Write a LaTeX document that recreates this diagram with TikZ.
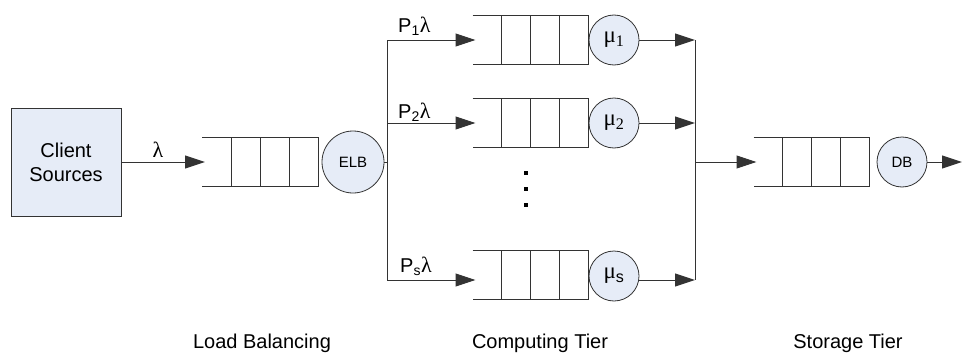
\documentclass[tikz,border=0pt]{standalone}
\usepackage{fontspec}
\setmainfont{Liberation Sans}
\newfontfamily\gr{Liberation Serif}
\usetikzlibrary{arrows.meta}
\definecolor{lblue}{HTML}{E6ECF7}
\definecolor{ln}{HTML}{333333}
\tikzset{
  qline/.style={draw=ln, line width=1pt},
  arr/.style={draw=ln, line width=1pt, -{Triangle[length=20pt,width=13pt]}},
  wire/.style={draw=ln, line width=1pt},
  srv/.style={circle, draw=ln, line width=0.8pt, fill=lblue, inner sep=0pt},
  client/.style={rectangle, draw=ln, line width=1pt, fill=lblue, minimum width=110pt, minimum height=108pt, align=center, font=\fontsize{20}{24}\selectfont},
  lbl/.style={inner sep=0pt, font=\fontsize{20}{24}\selectfont},
  queue/.pic={
    \draw[qline] (-58,-24.5) -- (58,-24.5) -- (58,24.5) -- (-58,24.5);
    \foreach \xx in {-29,0,29} \draw[qline] (\xx,-24.5) -- (\xx,24.5);
    \coordinate (-in) at (-55,0);
  }
}
\begin{document}
\begin{tikzpicture}[x=1pt,y=-1pt]
\useasboundingbox (0,0) rectangle (962,356);
% load balancing
\node[client] (cs) at (66,162) {Client\\Sources};
\pic (q0) at (260,162) {queue};
\node[srv, minimum size=62pt, font=\fontsize{15}{18}\selectfont] (elb) at (353,162) {ELB};
\draw[arr] (cs) -- (q0-in);
\node[lbl, font=\fontsize{22}{26}\selectfont] (lam) at (158,150) {\gr λ};
% branches
\coordinate (b1) at (387,40);
\coordinate (b2) at (387,123);
\coordinate (bs) at (387,280);
\coordinate (bm) at (387,162);
\draw[wire] (b1) -- (bs);
\draw[wire] (elb.east) -- (bm);
% computing tier queues
\pic (q1) at (530.5,40) {queue};
\pic (q2) at (530.5,123) {queue};
\pic (q3) at (530.5,275) {queue};
\coordinate (q3in) at (475.5,280);
\draw[arr] (b1) -- (q1-in);
\draw[arr] (b2) -- (q2-in);
\draw[arr] (bs) -- (q3in);
\node[lbl, anchor=base west] (p1) at (398,32) {P\textsubscript{1}{\gr\fontsize{22}{26}\selectfont λ}};
\node[lbl, anchor=base west] (p2) at (398,118) {P\textsubscript{2}{\gr\fontsize{22}{26}\selectfont λ}};
\node[lbl, anchor=base west] (ps) at (400,272) {P\textsubscript{s}{\gr\fontsize{22}{26}\selectfont λ}};
\node[srv, minimum size=50pt, font=\fontsize{23}{26}\selectfont] (mu1) at (614,40) {{\gr μ\textsubscript{1}}};
\node[srv, minimum size=50pt, font=\fontsize{23}{26}\selectfont] (mu2) at (614,123) {{\gr μ\textsubscript{2}}};
\node[srv, minimum size=50pt, font=\fontsize{23}{26}\selectfont] (mus) at (614,276) {{\gr μ}\textsubscript{s}};
% dots
\foreach \yy/\nm in {173/d1,189/d2,205/d3}
  \node[fill=black, minimum size=4pt, inner sep=0pt] (\nm) at (526,\yy) {};
% join
\coordinate (r1) at (695,40);
\coordinate (r2) at (695,123);
\coordinate (rs) at (695,280);
\coordinate (rm) at (695,162);
\draw[wire] (r1) -- (rs);
\draw[arr] (mu1) -- (r1);
\draw[arr] (mu2) -- (r2);
\draw[arr] (mus.east |- rs) -- (rs);
% storage
\pic (q4) at (811.5,162) {queue};
\draw[arr] (rm) -- (q4-in);
\node[srv, minimum size=50pt, font=\fontsize{15}{18}\selectfont] (db) at (902,162) {DB};
\coordinate (out) at (962,162);
\draw[arr] (db) -- (out);
% tier labels
\node[lbl, anchor=base] (t1) at (262,348) {Load Balancing};
\node[lbl, anchor=base] (t2) at (540,348) {Computing Tier};
\node[lbl, anchor=base] (t3) at (848,348) {Storage Tier};
\end{tikzpicture}
\end{document}
